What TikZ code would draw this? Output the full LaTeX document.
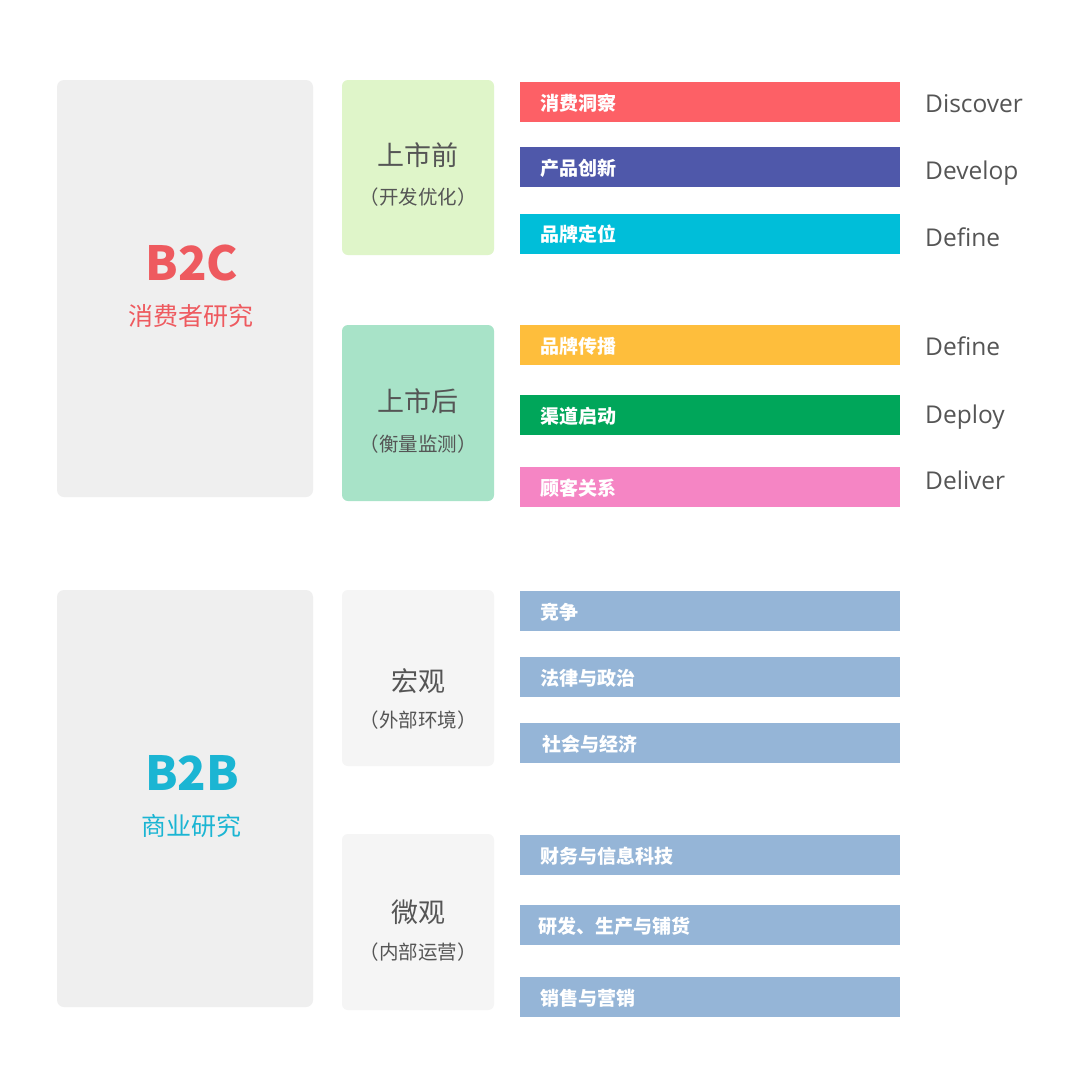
\documentclass[tikz,border=0pt]{standalone}
\usepackage{fontspec}
\newfontfamily\cjk{Noto Sans CJK SC}
\newfontfamily\cjkblack{Noto Sans CJK SC Black}
\newfontfamily\latinf{Open Sans}
\definecolor{bigbg}{HTML}{EFEFEF}
\definecolor{lightbg}{HTML}{F5F5F5}
\definecolor{gbox1}{HTML}{DFF5C9}
\definecolor{gbox2}{HTML}{A8E3C8}
\definecolor{cred}{HTML}{FD6066}
\definecolor{cindigo}{HTML}{4F58AA}
\definecolor{ccyan}{HTML}{00BED9}
\definecolor{camber}{HTML}{FEBE3C}
\definecolor{cgreen}{HTML}{00A65A}
\definecolor{cpink}{HTML}{F585C4}
\definecolor{cblue}{HTML}{95B5D7}
\definecolor{tred}{HTML}{EE5A5F}
\definecolor{tcyan}{HTML}{1BB5D3}
\definecolor{tgray}{HTML}{555555}
\tikzset{
  bigbox/.style={rectangle, rounded corners=7pt, fill=bigbg, minimum width=256pt, minimum height=417pt, inner sep=0pt},
  midbox/.style={rectangle, rounded corners=6pt, minimum width=152pt, minimum height=176pt, inner sep=0pt},
  bar/.style={rectangle, minimum width=380pt, minimum height=40pt, inner sep=0pt},
  barlabel/.style={anchor=west, inner sep=0pt, text=white, font=\cjk\bfseries\fontsize{19}{19}\selectfont},
  enlabel/.style={anchor=base west, inner sep=0pt, text=tgray, font=\latinf\fontsize{24.5}{24.5}\selectfont},
  bigtitle/.style={inner sep=0pt, font=\cjkblack\fontsize{47}{47}\selectfont},
  subtitle/.style={inner sep=0pt, font=\cjk\fontsize{25}{25}\selectfont},
  midtitle/.style={inner sep=0pt, text=tgray, font=\cjk\fontsize{27}{27}\selectfont},
  midsub/.style={inner sep=0pt, text=tgray, font=\cjk\fontsize{19.5}{19.5}\selectfont},
}
\begin{document}
\begin{tikzpicture}[x=1pt, y=-1pt]
\useasboundingbox[fill=white] (0,0) rectangle (1080,1087);

% big boxes
\node[bigbox] (b2c) at (185,288.5) {};
\node[bigbox] (b2b) at (185,798.5) {};
\node[bigtitle, text=tred] (b2cT) at (192,263) {B2C};
\node[subtitle, text=tred] (b2cS) at (191,316) {消费者研究};
\node[bigtitle, text=tcyan] (b2bT) at (192,773) {B2B};
\node[subtitle, text=tcyan] (b2bS) at (191,826) {商业研究};

% middle boxes
\node[midbox, fill=gbox1, minimum height=175pt] (pre) at (418,167.5) {};
\node[midbox, fill=gbox2] (post) at (418,413) {};
\node[midbox, fill=lightbg] (macro) at (418,678) {};
\node[midbox, fill=lightbg] (micro) at (418,922) {};

\node[midtitle] (preT) at (418,155) {上市前};
\node[midsub] (preS) at (418,197) {（开发优化）};
\node[midtitle] (postT) at (418,401) {上市后};
\node[midsub] (postS) at (418,444) {（衡量监测）};
\node[midtitle] (macroT) at (418,681) {宏观};
\node[midsub] (macroS) at (418,720) {（外部环境）};
\node[midtitle] (microT) at (418,912) {微观};
\node[midsub] (microS) at (418,952) {（内部运营）};

% colored bars
\node[bar, fill=cred] (r1) at (710,102) {};
\node[bar, fill=cindigo] (r2) at (710,167) {};
\node[bar, fill=ccyan] (r3) at (710,233.5) {};
\node[bar, fill=camber] (r4) at (710,345) {};
\node[bar, fill=cgreen] (r5) at (710,415) {};
\node[bar, fill=cpink] (r6) at (710,487) {};

\node[barlabel] (l1) at ([xshift=20pt,yshift=-1pt]r1.west) {消费洞察};
\node[barlabel] (l2) at ([xshift=20pt,yshift=-1pt]r2.west) {产品创新};
\node[barlabel] (l3) at ([xshift=20pt,yshift=-1pt]r3.west) {品牌定位};
\node[barlabel] (l4) at ([xshift=20pt,yshift=-1pt]r4.west) {品牌传播};
\node[barlabel] (l5) at ([xshift=20pt,yshift=-1pt]r5.west) {渠道启动};
\node[barlabel] (l6) at ([xshift=20pt,yshift=-1pt]r6.west) {顾客关系};

% english labels
\node[enlabel] (e1) at (925,112) {Discover};
\node[enlabel] (e2) at (925,179) {Develop};
\node[enlabel] (e3) at (925,246) {Define};
\node[enlabel] (e4) at (925,355) {Define};
\node[enlabel] (e5) at (925,423) {Deploy};
\node[enlabel] (e6) at (925,489) {Deliver};

% blue bars
\node[bar, fill=cblue] (s1) at (710,611) {};
\node[bar, fill=cblue] (s2) at (710,677) {};
\node[bar, fill=cblue] (s3) at (710,743) {};
\node[bar, fill=cblue] (s4) at (710,855) {};
\node[bar, fill=cblue] (s5) at (710,925) {};
\node[bar, fill=cblue] (s6) at (710,997) {};

\node[barlabel] (m1) at ([xshift=20pt,yshift=-1pt]s1.west) {竞争};
\node[barlabel] (m2) at ([xshift=20pt,yshift=-1pt]s2.west) {法律与政治};
\node[barlabel] (m3) at ([xshift=22pt,yshift=-1pt]s3.west) {社会与经济};
\node[barlabel] (m4) at ([xshift=20pt,yshift=-1pt]s4.west) {财务与信息科技};
\node[barlabel] (m5) at ([xshift=18pt,yshift=-1pt]s5.west) {研发、生产与铺货};
\node[barlabel] (m6) at ([xshift=20pt,yshift=-1pt]s6.west) {销售与营销};
\end{tikzpicture}
\end{document}
